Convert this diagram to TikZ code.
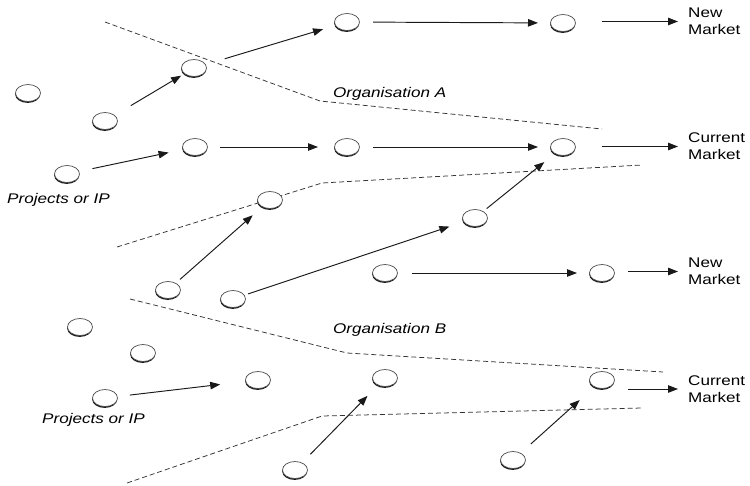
\documentclass[tikz,border=0pt]{standalone}
\usepackage{fontspec}
\newfontfamily\lab[FakeStretch=1.22]{Liberation Sans}
\usetikzlibrary{arrows.meta,shapes.geometric,shadows}
\tikzset{
  ell/.style={ellipse, draw=black!70, fill=white, line width=0.7pt,
    minimum width=25pt, minimum height=17pt, inner sep=0pt,
    general shadow={shadow yshift=-1.4pt, shadow xshift=-0.3pt, fill=black!90}},
  conn/.style={-{Triangle[length=10pt,width=7.5pt]}, line width=0.95pt, draw=black!90},
  bound/.style={dash pattern=on 5pt off 3pt, line width=0.75pt, draw=black!80},
  mkt/.style={anchor=west, inner sep=0pt, align=left, font=\lab\fontsize{14}{17}\selectfont},
  org/.style={anchor=west, inner sep=0pt, font=\lab\itshape\fontsize{14}{17}\selectfont}
}
\begin{document}
\begin{tikzpicture}[x=1pt,y=-1pt]
\useasboundingbox[fill=white] (0,0) rectangle (750,485);
% boundaries
\draw[bound] (105,22) -- (320,101) -- (602,129);
\draw[bound] (117,247) -- (322,183) -- (642,165);
\draw[bound] (130,299) -- (347,353) -- (663,372);
\draw[bound] (127,483) -- (322,416) -- (642,408);
% ellipses, organisation A
\node[ell] (A1) at (28,93) {};
\node[ell] (A2) at (105,121) {};
\node[ell] (A3) at (67,174) {};
\node[ell] (A4) at (194,68) {};
\node[ell] (A5) at (195,147) {};
\node[ell] (A6) at (347,22) {};
\node[ell] (A7) at (347,147) {};
\node[ell] (A8) at (563,23) {};
\node[ell] (A9) at (563,147) {};
\node[ell] (A10) at (270,200) {};
\node[ell] (A11) at (475,218) {};
% ellipses, organisation B
\node[ell] (B1) at (168,290) {};
\node[ell] (B2) at (233,299) {};
\node[ell] (B3) at (80,327) {};
\node[ell] (B4) at (143,353) {};
\node[ell] (B5) at (105,398) {};
\node[ell] (B6) at (258,380) {};
\node[ell] (B7) at (385,273) {};
\node[ell] (B8) at (602,273) {};
\node[ell] (B9) at (385,378) {};
\node[ell] (B10) at (602,380) {};
\node[ell] (B11) at (295,470) {};
\node[ell] (B12) at (513,460) {};
% labels
\node[mkt] (NM1) at (688,21.5) {New\\Market};
\node[mkt] (CM1) at (688,146.5) {Current\\Market};
\node[mkt] (NM2) at (688,271.5) {New\\Market};
\node[mkt] (CM2) at (688,389) {Current\\Market};
\node[org] (OA) at (333,94) {Organisation A};
\node[org] (OB) at (333,330) {Organisation B};
\node[org] (PA) at (7,200) {Projects or IP};
\node[org] (PB) at (42,420) {Projects or IP};
% connectors A
\draw[conn, shorten <=30pt, shorten >=15pt] (A2.center) -- (A4.center);
\draw[conn, shorten <=32pt, shorten >=25pt] (A4.center) -- (A6.center);
\draw[conn, shorten <=26pt, shorten >=25pt] (A6.center) -- (A8.center);
\draw[conn, shorten <=26.5pt, shorten >=10pt] (A8.east |- NM1.west) -- (NM1.west);
\draw[conn, shorten <=26pt, shorten >=27pt] (A3.center) -- (A5.center);
\draw[conn, shorten <=25pt, shorten >=29pt] (A5.center) -- (A7.center);
\draw[conn, shorten <=26pt, shorten >=25pt] (A7.center) -- (A9.center);
\draw[conn, shorten <=26.5pt, shorten >=10pt] (A9.east |- CM1.west) -- (CM1.west);
\draw[conn, shorten <=16pt, shorten >=23pt] (B1.center) -- (A10.center);
\draw[conn, shorten <=16pt, shorten >=27pt] (B2.center) -- (A11.center);
\draw[conn, shorten <=15pt, shorten >=24pt] (A11.center) -- (A9.center);
% connectors B
\draw[conn, shorten <=25pt, shorten >=38pt] (B5.center) -- (B6.center);
\draw[conn, shorten <=27pt, shorten >=25pt] (B7.center) -- (B8.center);
\draw[conn, shorten <=13.5pt, shorten >=10pt] (B8.east |- NM2.west) -- (NM2.west);
\draw[conn, shorten <=13.5pt, shorten >=10pt] (B10.east |- CM2.west) -- (CM2.west);
\draw[conn, shorten <=22pt, shorten >=25pt] (B11.center) -- (B9.center);
\draw[conn, shorten <=24pt, shorten >=30pt] (B12.center) -- (B10.center);
\end{tikzpicture}
\end{document}
